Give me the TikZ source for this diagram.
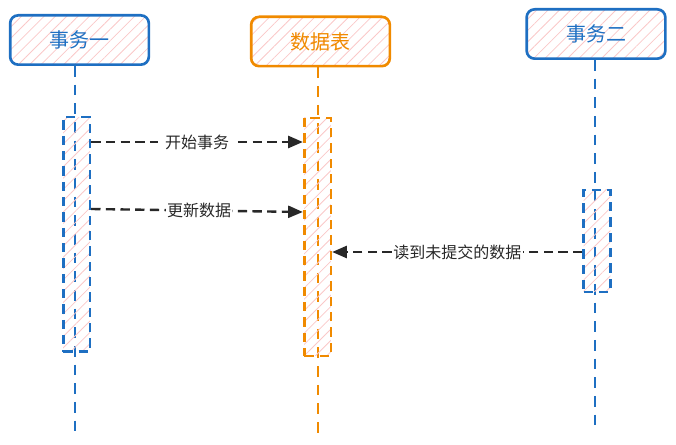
\documentclass[tikz,border=0pt]{standalone}
\usepackage{fontspec}
\newfontfamily\cjk{Noto Sans CJK SC}
\usetikzlibrary{arrows.meta,patterns.meta}
\definecolor{tblue}{RGB}{30,111,194}
\definecolor{torange}{RGB}{240,138,0}
\definecolor{hatchc}{RGB}{250,200,200}
\definecolor{msgc}{RGB}{40,40,40}

\begin{document}
\begin{tikzpicture}[
  x=0.75pt,y=-0.75pt,
  hatch/.style={pattern={Lines[angle=45,distance=6pt,line width=0.6pt]},pattern color=hatchc},
  actor/.style={draw=#1,text=#1,hatch,line width=2pt,rounded corners=6pt,
    minimum width=104pt,minimum height=37pt,font=\cjk\fontsize{15}{17}\selectfont},
  bar/.style={draw=#1,hatch,line width=2pt,dash pattern=on 7pt off 4.5pt,minimum width=20pt,inner sep=0pt},
  life/.style={draw=#1,line width=2pt,dash pattern=on 8pt off 6pt},
  msg/.style={draw=msgc,line width=1.8pt,dash pattern=on 7pt off 4pt,
    -{Triangle[length=11pt,width=9pt,fill=msgc]}},
  lbl/.style={fill=white,inner xsep=5pt,inner ysep=1pt,text=msgc,font=\cjk\fontsize{12}{14}\selectfont}
]
\useasboundingbox (0,0) rectangle (676,445);

% participants
\node[actor=tblue] (T1) at (79.5,40) {事务一};
\node[actor=torange] (DB) at (320.5,41.5) {数据表};
\node[actor=tblue] (T2) at (596,34) {事务二};

% lifelines
\coordinate (T1end) at (75,432);
\coordinate (DBend) at (318,435);
\coordinate (T2end) at (595,428);
\draw[life=tblue] (T1.south -| T1end) -- (T1end);
\draw[life=torange] (DB.south -| DBend) -- (DBend);
\draw[life=tblue] (T2.south -| T2end) -- (T2end);

% activations
\node[bar=tblue,minimum height=176pt] (A1) at (76.5,234.5) {};
\node[bar=torange,minimum height=178.5pt] (A2) at (317.5,237) {};
\node[bar=tblue,minimum height=76.5pt] (A3) at (597,241) {};

% messages
\coordinate (m1) at (0,142);
\coordinate (m2a) at (0,209);
\coordinate (m2b) at (0,212);
\coordinate (m3) at (0,252);
\draw[msg] (A1.east |- m1) -- node[lbl] {开始事务} (A2.west |- m1);
\draw[msg] (A1.east |- m2a) -- node[lbl,pos=0.51,inner xsep=0.5pt] {更新数据} (A2.west |- m2b);
\draw[msg] (A3.west |- m3) -- node[lbl,inner xsep=1pt] {读到未提交的数据} (A2.east |- m3);
\end{tikzpicture}
\end{document}
